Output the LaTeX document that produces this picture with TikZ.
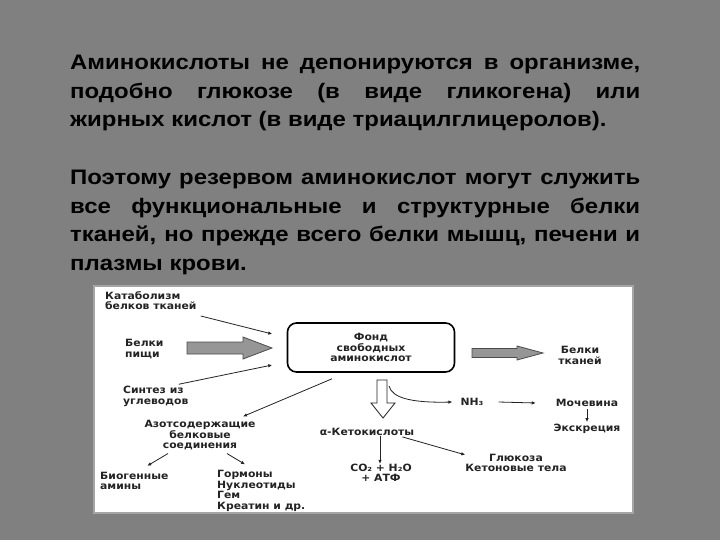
\documentclass[tikz,border=0pt]{standalone}
\usepackage{fontspec}
\setmainfont{Liberation Sans}
\newfontfamily\slidefont{Liberation Sans}[FakeStretch=1.14]
\newfontfamily\scanfont{DejaVu Sans}[FakeStretch=1.08]
\usepackage{xcolor}
\definecolor{slidegray}{RGB}{128,128,128}
\definecolor{scanink}{RGB}{35,35,35}
\definecolor{arrowgray}{RGB}{150,150,150}
\definecolor{framegray}{RGB}{165,165,165}
\usetikzlibrary{arrows.meta}

\begin{document}
\begin{tikzpicture}[x=1pt,y=-1pt,
  slidetext/.style={anchor=north west,inner sep=0pt,text width=570pt,align=justify,
    font=\slidefont\bfseries\fontsize{21}{28.6}\selectfont},
  lbl/.style={inner sep=0pt,text=scanink,font=\scanfont\bfseries\fontsize{10}{10.5}\selectfont},
  thinarr/.style={scanink,line width=0.8pt,-{Latex[length=4pt,width=3.5pt]}},
  fatarr/.style={draw=black!70,fill=arrowgray,line width=0.8pt}]
  \useasboundingbox (0,0) rectangle (720,540);
  \fill[slidegray] (0,0) rectangle (720,540);
  % slide text
  \node[slidetext] (para1) at (70,55) {\tolerance=9999\hyphenpenalty=10000
    Аминокислоты не депонируются в организме,\linebreak
    подобно глюкозе (в виде гликогена) или\linebreak
    жирных кислот (в виде триацилглицеролов).};
  \node[slidetext] (para2) at (70,170) {\tolerance=9999\hyphenpenalty=10000
    Поэтому резервом аминокислот могут служить\linebreak
    все функциональные и структурные белки\linebreak
    тканей, но прежде всего белки мышц, печени и\linebreak
    плазмы крови.};
  % scheme
  \draw[fill=white,draw=framegray,line width=1.5pt] (94,286) rectangle (633,513);
  \node[lbl,anchor=west,align=left] (catab) at (105,300.5) {Катаболизм\\белков тканей};
  \node[lbl,anchor=west,align=left] (food) at (125,349) {Белки\\пищи};
  \node[lbl,anchor=west,align=left] (synth) at (123,396.5) {Синтез из\\углеводов};
  \node[lbl,draw=black,line width=1.6pt,rounded corners=9pt,minimum width=167pt,
    minimum height=49pt,align=center] (fond) at (371,347.5) {Фонд\\свободных\\аминокислот};
  \node[lbl,align=center] (tissue) at (580,355.5) {Белки\\тканей};
  \node[lbl] (nh) at (472,402) {NH₃};
  \node[lbl] (urea) at (587,403) {Мочевина};
  \node[lbl] (excr) at (587,429) {Экскреция};
  \node[lbl] (keto) at (367,432) {α-Кетокислоты};
  \node[lbl,align=center] (co) at (381,473) {CO₂ + H₂O\\+ АТФ};
  \node[lbl,align=center] (gluc) at (516,463) {Глюкоза\\Кетоновые тела};
  \node[lbl,align=center] (azot) at (200,435.5) {Азотсодержащие\\белковые\\соединения};
  \node[lbl,anchor=west,align=left] (biog) at (100,481) {Биогенные\\амины};
  \node[lbl,anchor=west,align=left] (horm) at (217,491) {Гормоны\\Нуклеотиды\\Гем\\Креатин и др.};
  % big arrows
  \draw[fatarr] (187,342) -- (243,342) -- (243,337) -- (272,348) -- (243,359) -- (243,354) -- (187,354) -- cycle;
  \draw[fatarr] (472,348.5) -- (517,348.5) -- (517,346) -- (543,353) -- (517,360) -- (517,357.5) -- (472,357.5) -- cycle;
  \draw[scanink,fill=white,line width=0.8pt] (377,380) -- (387,380) -- (387,403) -- (395,403) -- (383,418) -- (371,403) -- (377,403) -- cycle;
  \coordinate (shaft) at (389,386);
  % thin arrows
  \draw[thinarr] ([shift={(4,6)}]catab.south east) -- ([shift={(-14.5,-13.5)}]fond.west);
  \draw[thinarr] ([shift={(23,-2)}]synth.north) -- ([shift={(-14.5,17.5)}]fond.west);
  \draw[thinarr] ([shift={(-39,6)}]fond.south) -- ([shift={(43,-4)}]azot.north);
  \draw[thinarr] ([shift={(-32,3)}]azot.south) -- ([shift={(13,-6)}]biog.north);
  \draw[thinarr] ([shift={(27,3)}]azot.south) -- ([shift={(28,-6)}]horm.north west);
  \draw[thinarr] (shaft) .. controls (392,398) and (412,403) .. ([xshift=-8]nh.west);
  \draw[thinarr] ([xshift=15]nh.east) -- ([xshift=-20]urea.west);
  \draw[thinarr,shorten <=2pt,shorten >=2pt] (urea) -- (excr);
  \draw[thinarr] ([xshift=13]keto.south) -- ([xshift=-1]co.north);
  \draw[thinarr] ([shift={(-12,1)}]keto.south east) -- ([shift={(0,1)}]gluc.north west);
\end{tikzpicture}
\end{document}
